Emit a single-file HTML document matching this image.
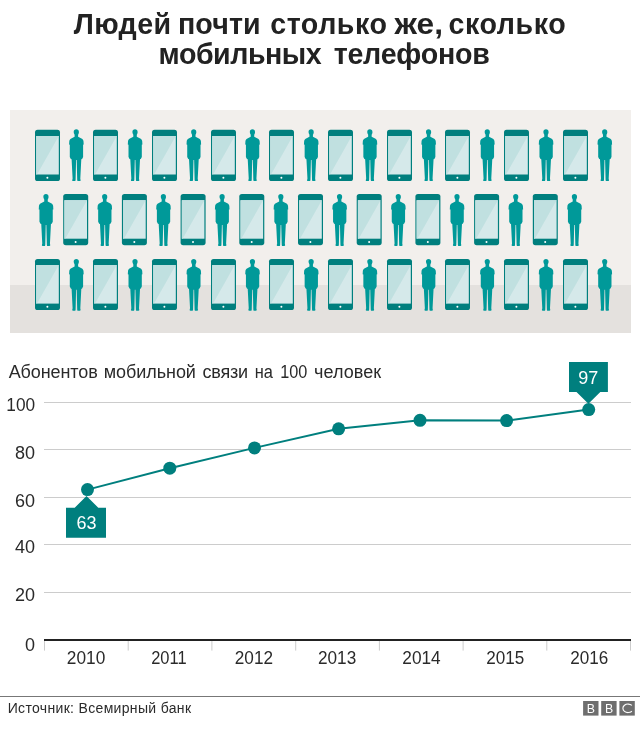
<!DOCTYPE html>
<html><head><meta charset="utf-8"><title>chart</title>
<style>
html,body{margin:0;padding:0;background:#fff;}
body{width:640px;height:750px;overflow:hidden;font-family:"Liberation Sans",sans-serif;}
svg{display:block;}
text{font-family:"Liberation Sans",sans-serif;}
.t{font-size:28.6px;font-weight:bold;fill:#222222;}
.sub{font-size:18px;fill:#2a2a2a;}
.ax{font-size:18px;fill:#2a2a2a;}
.src{font-size:14px;fill:#2a2a2a;}
.lb{font-size:18px;fill:#ffffff;}
.bbc{font-size:13px;fill:#ffffff;}
</style></head><body>
<svg style="will-change:transform" width="640" height="750" viewBox="0 0 640 750">
<defs>
<g id="ph">
<rect x="0" y="0" width="25" height="51.2" rx="2.6" ry="2.6" fill="#007f7e"/>
<rect x="1.2" y="6.2" width="22.6" height="38.5" fill="#d5e9ea"/>
<path d="M1.2 6.2 L23.8 6.2 L2 44.7 L1.2 44.7 Z" fill="#c0e0e0"/>
<circle cx="12.4" cy="47.9" r="1.0" fill="#ffffff"/>
</g>
<path id="pe" d="M8.4 0.1 C10 0.1 11 1.2 11 2.8 C11 3.6 10.9 4.6 10.2 5.6 L10.2 7.6 L13.6 9.4 C14.9 10 15.5 11 15.6 12.2 L15.8 15.5 L15.2 15.7 L15.2 27.8 L14.2 29.8 L13.4 30.2 L12.4 49.5 L12.7 51.3 C12.7 51.8 12.3 52 11.8 52 L9.6 52 L9.3 51 L8.8 31 L8.2 31 L7.7 51 L7.4 52 L5.2 52 C4.7 52 4.3 51.8 4.3 51.3 L4.7 49.5 L3.7 30.2 L2.9 29.8 L1.9 27.8 L1.9 15.7 L1.2 15.5 L1.4 12.2 C1.5 11 2.1 10 3.4 9.4 L6.7 7.6 L6.7 5.6 C6 4.6 5.8 3.6 5.8 2.8 C5.8 1.2 6.8 0.1 8.4 0.1 Z" fill="#009999"/>
</defs>
<rect x="0" y="0" width="640" height="750" fill="#ffffff"/>
<text x="73.7" y="34.3" class="t" style="letter-spacing:0.41px">Людей</text>
<text x="178" y="34.3" class="t" style="letter-spacing:0.1px">почти</text>
<text x="270.2" y="34.3" class="t" style="letter-spacing:0.56px">столько</text>
<text x="394.6" y="34.3" class="t" textLength="48.4" lengthAdjust="spacingAndGlyphs">же,</text>
<text x="448.5" y="34.3" class="t" style="letter-spacing:0.58px">сколько</text>
<text x="158.6" y="64.3" class="t" style="letter-spacing:-0.46px">мобильных</text>
<text x="333.7" y="64.3" class="t" style="letter-spacing:-0.25px">телефонов</text>
<rect x="10" y="110" width="621" height="223" fill="#f2efec"/>
<rect x="10" y="285" width="621" height="48" fill="#e4e1de"/>
<use href="#ph" x="35" y="129.8"/><use href="#pe" x="67.90" y="129.10"/><use href="#ph" x="93" y="129.8"/><use href="#pe" x="126.61" y="129.10"/><use href="#ph" x="152" y="129.8"/><use href="#pe" x="185.32" y="129.10"/><use href="#ph" x="211" y="129.8"/><use href="#pe" x="244.03" y="129.10"/><use href="#ph" x="269" y="129.8"/><use href="#pe" x="302.74" y="129.10"/><use href="#ph" x="328" y="129.8"/><use href="#pe" x="361.45" y="129.10"/><use href="#ph" x="387" y="129.8"/><use href="#pe" x="420.16" y="129.10"/><use href="#ph" x="445" y="129.8"/><use href="#pe" x="478.87" y="129.10"/><use href="#ph" x="504" y="129.8"/><use href="#pe" x="537.58" y="129.10"/><use href="#ph" x="563" y="129.8"/><use href="#pe" x="596.29" y="129.10"/><use href="#ph" x="35" y="258.9"/><use href="#pe" x="67.90" y="258.80"/><use href="#ph" x="93" y="258.9"/><use href="#pe" x="126.61" y="258.80"/><use href="#ph" x="152" y="258.9"/><use href="#pe" x="185.32" y="258.80"/><use href="#ph" x="211" y="258.9"/><use href="#pe" x="244.03" y="258.80"/><use href="#ph" x="269" y="258.9"/><use href="#pe" x="302.74" y="258.80"/><use href="#ph" x="328" y="258.9"/><use href="#pe" x="361.45" y="258.80"/><use href="#ph" x="387" y="258.9"/><use href="#pe" x="420.16" y="258.80"/><use href="#ph" x="445" y="258.9"/><use href="#pe" x="478.87" y="258.80"/><use href="#ph" x="504" y="258.9"/><use href="#pe" x="537.58" y="258.80"/><use href="#ph" x="563" y="258.9"/><use href="#pe" x="596.29" y="258.80"/><use href="#pe" x="37.55" y="193.90"/><use href="#ph" x="63.2" y="194.0"/><use href="#pe" x="96.27" y="193.90"/><use href="#ph" x="121.9" y="194.0"/><use href="#pe" x="154.99" y="193.90"/><use href="#ph" x="180.6" y="194.0"/><use href="#pe" x="213.71" y="193.90"/><use href="#ph" x="239.3" y="194.0"/><use href="#pe" x="272.43" y="193.90"/><use href="#ph" x="298.0" y="194.0"/><use href="#pe" x="331.15" y="193.90"/><use href="#ph" x="356.7" y="194.0"/><use href="#pe" x="389.87" y="193.90"/><use href="#ph" x="415.4" y="194.0"/><use href="#pe" x="448.59" y="193.90"/><use href="#ph" x="474.1" y="194.0"/><use href="#pe" x="507.31" y="193.90"/><use href="#ph" x="532.8" y="194.0"/><use href="#pe" x="566.03" y="193.90"/>
<text x="8.7" y="378.2" class="sub" style="letter-spacing:-0.1px">Абонентов</text>
<text x="103.7" y="378.2" class="sub" style="letter-spacing:-0.05px">мобильной</text>
<text x="202.4" y="378.2" class="sub" style="letter-spacing:-0.17px">связи</text>
<text x="254.7" y="378.2" class="sub" textLength="18.2" lengthAdjust="spacingAndGlyphs">на</text>
<text x="280.3" y="378.2" class="sub" textLength="27.1" lengthAdjust="spacingAndGlyphs">100</text>
<text x="314.1" y="378.2" class="sub" style="letter-spacing:0.04px">человек</text>
<rect x="44" y="402" width="587" height="1" fill="#cccccc"/>
<text x="35.1" y="410.9" text-anchor="end" class="ax" textLength="28.8" lengthAdjust="spacingAndGlyphs">100</text>
<rect x="44" y="449" width="587" height="1" fill="#cccccc"/>
<text x="35.1" y="458.8" text-anchor="end" class="ax">80</text>
<rect x="44" y="497" width="587" height="1" fill="#cccccc"/>
<text x="35.1" y="506.8" text-anchor="end" class="ax">60</text>
<rect x="44" y="544" width="587" height="1" fill="#cccccc"/>
<text x="35.1" y="552.9" text-anchor="end" class="ax">40</text>
<rect x="44" y="592" width="587" height="1" fill="#cccccc"/>
<text x="35.1" y="601.3" text-anchor="end" class="ax">20</text>
<text x="35.1" y="650.9" text-anchor="end" class="ax">0</text>

<rect x="44" y="639" width="587" height="2" fill="#222222"/>
<rect x="44.0" y="641" width="1" height="9.6" fill="#cccccc"/>
<rect x="127.7" y="641" width="1" height="9.6" fill="#cccccc"/>
<rect x="211.4" y="641" width="1" height="9.6" fill="#cccccc"/>
<rect x="295.2" y="641" width="1" height="9.6" fill="#cccccc"/>
<rect x="378.9" y="641" width="1" height="9.6" fill="#cccccc"/>
<rect x="462.6" y="641" width="1" height="9.6" fill="#cccccc"/>
<rect x="546.3" y="641" width="1" height="9.6" fill="#cccccc"/>
<rect x="630.0" y="641" width="1" height="9.6" fill="#cccccc"/>

<text x="86.05" y="664.0" text-anchor="middle" class="ax" textLength="38.4" lengthAdjust="spacingAndGlyphs">2010</text>
<text x="168.9" y="664.0" text-anchor="middle" class="ax" textLength="35.4" lengthAdjust="spacingAndGlyphs">2011</text>
<text x="253.9" y="664.0" text-anchor="middle" class="ax" textLength="38.2" lengthAdjust="spacingAndGlyphs">2012</text>
<text x="337.1" y="664.0" text-anchor="middle" class="ax" textLength="38.2" lengthAdjust="spacingAndGlyphs">2013</text>
<text x="421.5" y="664.0" text-anchor="middle" class="ax" textLength="38.4" lengthAdjust="spacingAndGlyphs">2014</text>
<text x="505.2" y="664.0" text-anchor="middle" class="ax" textLength="38.0" lengthAdjust="spacingAndGlyphs">2015</text>
<text x="589.3" y="664.0" text-anchor="middle" class="ax" textLength="38.0" lengthAdjust="spacingAndGlyphs">2016</text>

<polyline fill="none" stroke="#007f7e" stroke-width="2.0" points="87.5,489.6 169.8,468.2 254.5,447.9 338.6,428.8 420.0,420.3 506.6,420.6 588.7,409.6"/>
<circle cx="87.5" cy="489.6" r="6.5" fill="#007f7e"/><circle cx="169.8" cy="468.2" r="6.5" fill="#007f7e"/><circle cx="254.5" cy="447.9" r="6.5" fill="#007f7e"/><circle cx="338.6" cy="428.8" r="6.5" fill="#007f7e"/><circle cx="420.0" cy="420.3" r="6.5" fill="#007f7e"/><circle cx="506.6" cy="420.6" r="6.5" fill="#007f7e"/><circle cx="588.7" cy="409.6" r="6.5" fill="#007f7e"/>
<path d="M66 507.8 H74.7 L86.5 496.1 L98.3 507.8 H106 V537.7 H66 Z" fill="#007f7e"/>
<text x="86.6" y="529.2" text-anchor="middle" class="lb">63</text>
<path d="M569 361.9 H607.9 V391.9 H600.3 L588.4 403.7 L576.5 391.9 H569 Z" fill="#007f7e"/>
<text x="588.2" y="384.1" text-anchor="middle" class="lb">97</text>
<rect x="0" y="696" width="640" height="1" fill="#777777"/>
<text x="7.7" y="713.1" class="src" textLength="183.3" lengthAdjust="spacing">Источник: Всемирный банк</text>
<rect x="583.1" y="701" width="15.4" height="14.6" fill="#6e6e6e"/>
<rect x="601.2" y="701" width="15.4" height="14.6" fill="#6e6e6e"/>
<rect x="619.4" y="701" width="15.4" height="14.6" fill="#6e6e6e"/>
<text x="590.9" y="713.1" text-anchor="middle" class="bbc" textLength="8.2" lengthAdjust="spacingAndGlyphs">B</text>
<text x="609" y="713.1" text-anchor="middle" class="bbc" textLength="8.2" lengthAdjust="spacingAndGlyphs">B</text>
<path d="M631.9 705.4 A5.2 4.25 0 1 0 631.9 711.2" fill="none" stroke="#ffffff" stroke-width="1.15"/>
</svg>
</body></html>
